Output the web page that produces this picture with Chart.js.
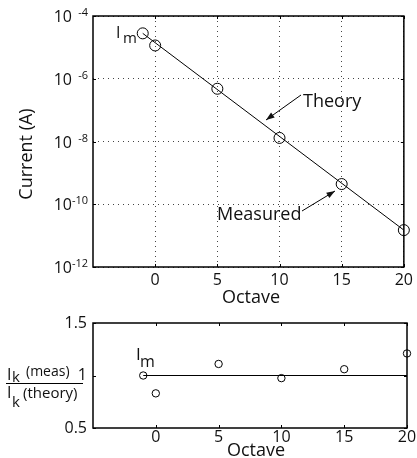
<!DOCTYPE html>
<html>
<head>
<meta charset="utf-8">
<script src="https://cdn.jsdelivr.net/npm/chart.js@4.4.0/dist/chart.umd.min.js"></script>
<style>
  body { margin: 0; background: #fff; }
  #wrap { position: relative; width: 417px; height: 458px; }
  canvas { position: absolute; left: 0; }
</style>
</head>
<body>
<div id="wrap">
  <canvas id="top" width="417" height="312" style="top:0"></canvas>
  <canvas id="bottom" width="417" height="158" style="top:300px"></canvas>
</div>
<script>
// values
const octaves = [-1, 0, 5, 10, 15, 20];
const measured = [2.8e-5, 1.15e-5, 4.8e-7, 1.3e-8, 4.4e-10, 1.5e-11];
const theoryX = [-1, 20];
const theoryY = [2.8e-5, 1.5e-11];
const ratio = [1.0, 0.83, 1.11, 0.975, 1.06, 1.21];
const ratioLineX = [-1, 20];
const ratioLineY = [1, 1];
const xTicks = [0, 5, 10, 15, 20];
const currentTicks = [1e-12, 1e-10, 1e-8, 1e-6, 1e-4];
const currentExp = ['-12', '-10', '-8', '-6', '-4'];
const ratioTicks = [0.5, 1, 1.5];

const FONT = "'Open Sans', sans-serif";
const INK = '#111';

function pts(xs, ys) {
  return xs.map((x, i) => ({ x: x, y: ys[i] }));
}

function arrow(ctx, x1, y1, x2, y2) {
  const a = Math.atan2(y2 - y1, x2 - x1);
  ctx.beginPath();
  ctx.moveTo(x1, y1);
  ctx.lineTo(x2, y2);
  ctx.stroke();
  ctx.beginPath();
  ctx.moveTo(x2, y2);
  ctx.lineTo(x2 - 9 * Math.cos(a - 0.35), y2 - 9 * Math.sin(a - 0.35));
  ctx.lineTo(x2 - 9 * Math.cos(a + 0.35), y2 - 9 * Math.sin(a + 0.35));
  ctx.closePath();
  ctx.fill();
}

// box round the plot area plus small inward ticks, matlab style
const frame = {
  id: 'frame',
  afterDraw(chart) {
    const { ctx, chartArea: a, scales } = chart;
    ctx.save();
    ctx.strokeStyle = '#000';
    ctx.lineWidth = 1;
    ctx.beginPath();
    scales.x.ticks.forEach(t => {
      const px = Math.round(scales.x.getPixelForValue(t.value)) + 0.5;
      ctx.moveTo(px, a.bottom); ctx.lineTo(px, a.bottom - 3);
      ctx.moveTo(px, a.top); ctx.lineTo(px, a.top + 3);
    });
    scales.y.ticks.forEach(t => {
      const py = Math.round(scales.y.getPixelForValue(t.value)) + 0.5;
      ctx.moveTo(a.left, py); ctx.lineTo(a.left + 3, py);
      ctx.moveTo(a.right, py); ctx.lineTo(a.right - 3, py);
    });
    ctx.stroke();
    ctx.lineWidth = 1.5;
    ctx.strokeRect(a.left, a.top, a.right - a.left, a.bottom - a.top);
    ctx.restore();
  }
};

// ===== top: current vs octave =====
const topLabels = {
  id: 'topLabels',
  afterDraw(chart) {
    const { ctx, scales } = chart;
    ctx.save();
    ctx.fillStyle = INK;
    ctx.strokeStyle = '#000';
    ctx.lineWidth = 1;
    // log tick labels 10^n
    currentTicks.forEach((v, i) => {
      const py = scales.y.getPixelForValue(v);
      ctx.textBaseline = 'alphabetic';
      ctx.textAlign = 'right';
      ctx.font = '16px ' + FONT;
      ctx.fillText('10', 72, py + 6);
      ctx.font = '11px ' + FONT;
      ctx.fillText(currentExp[i], 88, py);
    });
    // axis titles
    ctx.textAlign = 'center';
    ctx.textBaseline = 'middle';
    ctx.font = '18px ' + FONT;
    ctx.fillText('Octave', 251, 298);
    ctx.save();
    ctx.translate(27, 154);
    ctx.rotate(-Math.PI / 2);
    ctx.fillText('Current (A)', 0, 0);
    ctx.restore();
    // annotations
    ctx.textAlign = 'left';
    ctx.textBaseline = 'alphabetic';
    ctx.font = '16px ' + FONT;
    ctx.fillText('I', 116, 38);
    ctx.font = '15px ' + FONT;
    ctx.fillText('m', 123, 43);
    ctx.font = '18px ' + FONT;
    ctx.fillText('Theory', 303, 107);
    ctx.fillText('Measured', 217, 220);
    arrow(ctx, 301, 95, 266, 120);
    arrow(ctx, 302, 211, 335, 191);
    ctx.restore();
  }
};

new Chart(document.getElementById('top'), {
  type: 'scatter',
  data: {
    datasets: [
      {
        type: 'line',
        data: pts(theoryX, theoryY),
        borderColor: '#000',
        borderWidth: 1,
        pointRadius: 0,
        fill: false
      },
      {
        data: pts(octaves, measured),
        pointStyle: 'circle',
        pointRadius: 5.5,
        borderColor: '#000',
        borderWidth: 1,
        backgroundColor: 'rgba(0,0,0,0)',
        clip: false
      }
    ]
  },
  options: {
    responsive: false,
    animation: false,
    devicePixelRatio: 1,
    layout: { padding: { top: 16, right: 10, left: 0, bottom: 0 } },
    plugins: { legend: { display: false }, tooltip: { enabled: false } },
    scales: {
      x: {
        type: 'linear',
        min: -5,
        max: 20,
        afterBuildTicks: s => { s.ticks = xTicks.map(v => ({ value: v })); },
        afterFit: s => { s.height = 45; },
        ticks: { font: { family: FONT, size: 16 }, color: INK, padding: 4, maxRotation: 0 },
        grid: { color: '#444', drawTicks: false, lineWidth: 1 },
        border: { display: false, dash: [1, 4] }
      },
      y: {
        type: 'logarithmic',
        min: 1e-12,
        max: 1e-4,
        afterBuildTicks: s => { s.ticks = currentTicks.map(v => ({ value: v })); },
        afterFit: s => { s.width = 93; },
        ticks: { display: false },
        grid: { color: '#444', drawTicks: false, lineWidth: 1 },
        border: { display: false, dash: [1, 4] }
      }
    }
  },
  plugins: [frame, topLabels]
});

// ===== bottom: ratio measured / theory =====
const bottomLabels = {
  id: 'bottomLabels',
  afterDraw(chart) {
    const ctx = chart.ctx;
    ctx.save();
    ctx.fillStyle = INK;
    ctx.strokeStyle = '#000';
    ctx.textAlign = 'center';
    ctx.textBaseline = 'middle';
    ctx.font = '18px ' + FONT;
    ctx.fillText('Octave', 256, 151);
    // fraction label on the left
    ctx.textAlign = 'left';
    ctx.textBaseline = 'alphabetic';
    ctx.font = '16px ' + FONT;
    ctx.fillText('I', 7, 80);
    ctx.fillText('I', 7, 98);
    ctx.font = '15px ' + FONT;
    ctx.fillText('k', 12, 82);
    ctx.fillText('k', 12, 107);
    ctx.font = '14px ' + FONT;
    ctx.fillText('(meas)', 26, 76);
    ctx.font = '15px ' + FONT;
    ctx.fillText('(theory)', 23, 98);
    ctx.lineWidth = 1;
    ctx.beginPath();
    ctx.moveTo(6, 83.5);
    ctx.lineTo(83, 83.5);
    ctx.stroke();
    // I_m note
    ctx.font = '17px ' + FONT;
    ctx.fillText('I', 136, 60);
    ctx.font = '16px ' + FONT;
    ctx.fillText('m', 140, 67);
    ctx.restore();
  }
};

new Chart(document.getElementById('bottom'), {
  type: 'scatter',
  data: {
    datasets: [
      {
        type: 'line',
        data: pts(ratioLineX, ratioLineY),
        borderColor: '#000',
        borderWidth: 1,
        pointRadius: 0,
        fill: false
      },
      {
        data: pts(octaves, ratio),
        pointStyle: 'circle',
        pointRadius: 3.7,
        borderColor: '#000',
        borderWidth: 1,
        backgroundColor: 'rgba(0,0,0,0)',
        clip: false
      }
    ]
  },
  options: {
    responsive: false,
    animation: false,
    devicePixelRatio: 1,
    layout: { padding: { top: 23, right: 10, left: 0, bottom: 0 } },
    plugins: { legend: { display: false }, tooltip: { enabled: false } },
    scales: {
      x: {
        type: 'linear',
        min: -5,
        max: 20,
        afterBuildTicks: s => { s.ticks = xTicks.map(v => ({ value: v })); },
        afterFit: s => { s.height = 30; },
        ticks: { font: { family: FONT, size: 16 }, color: INK, padding: 0, maxRotation: 0 },
        grid: { display: false, drawTicks: false },
        border: { display: false }
      },
      y: {
        type: 'linear',
        min: 0.5,
        max: 1.5,
        afterBuildTicks: s => { s.ticks = ratioTicks.map(v => ({ value: v })); },
        afterFit: s => { s.width = 93; },
        ticks: {
          font: { family: FONT, size: 16 },
          color: INK,
          padding: 6,
          callback: v => String(v)
        },
        grid: { display: false, drawTicks: false },
        border: { display: false }
      }
    }
  },
  plugins: [frame, bottomLabels]
});
</script>
</body>
</html>
